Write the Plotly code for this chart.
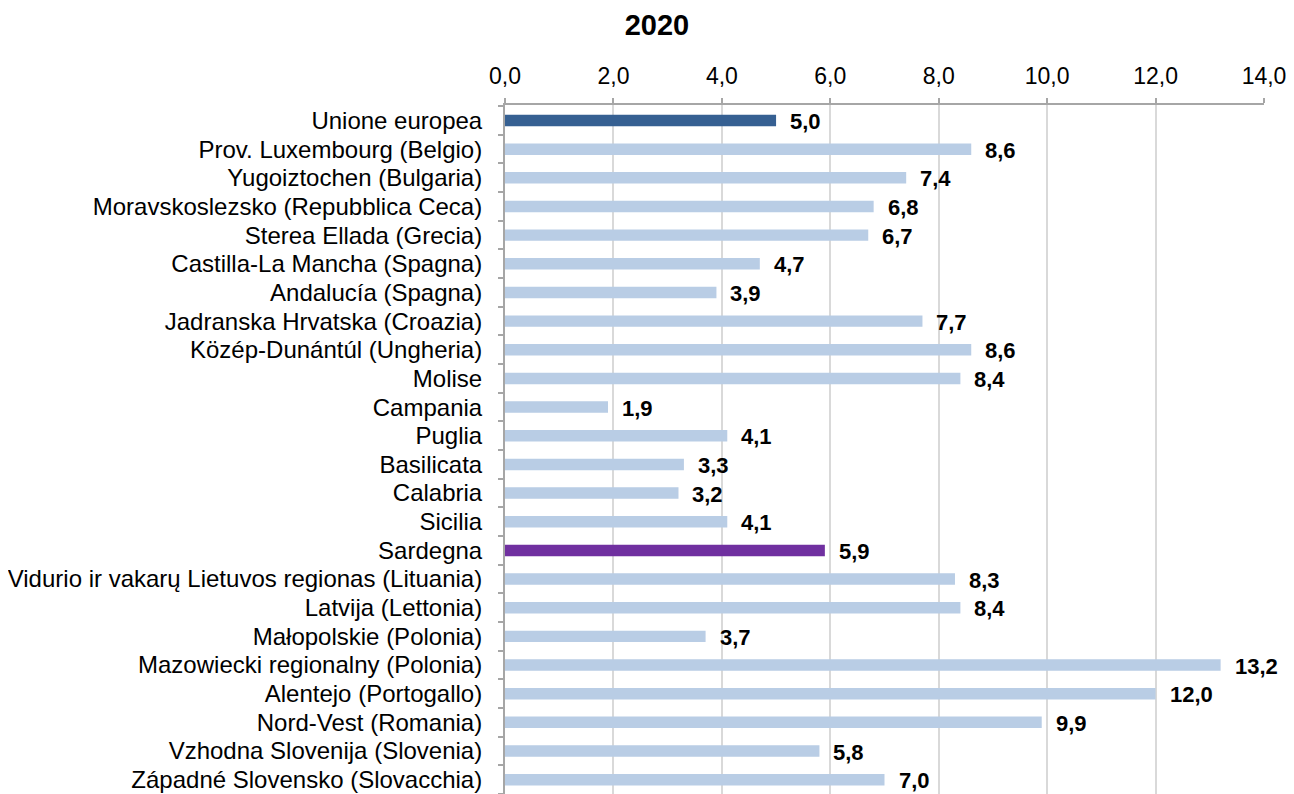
import plotly.graph_objects as go

regions = [
    "Unione europea", "Prov. Luxembourg (Belgio)", "Yugoiztochen (Bulgaria)",
    "Moravskoslezsko (Repubblica Ceca)", "Sterea Ellada (Grecia)",
    "Castilla-La Mancha (Spagna)", "Andalucía (Spagna)",
    "Jadranska Hrvatska (Croazia)", "Közép-Dunántúl (Ungheria)", "Molise",
    "Campania", "Puglia", "Basilicata", "Calabria", "Sicilia", "Sardegna",
    "Vidurio ir vakarų Lietuvos regionas (Lituania)", "Latvija (Lettonia)",
    "Małopolskie (Polonia)", "Mazowiecki regionalny (Polonia)",
    "Alentejo (Portogallo)", "Nord-Vest (Romania)",
    "Vzhodna Slovenija (Slovenia)", "Západné Slovensko (Slovacchia)",
]
values = [5.0, 8.6, 7.4, 6.8, 6.7, 4.7, 3.9, 7.7, 8.6, 8.4, 1.9, 4.1, 3.3,
          3.2, 4.1, 5.9, 8.3, 8.4, 3.7, 13.2, 12.0, 9.9, 5.8, 7.0]

colors = []
for r in regions:
    if r == "Unione europea":
        colors.append("#366092")
    elif r == "Sardegna":
        colors.append("#7030A0")
    else:
        colors.append("#B9CDE5")

fig = go.Figure(go.Bar(
    x=values, y=regions, orientation="h",
    marker=dict(color=colors, line=dict(width=0)),
    width=0.4,
))

# value labels to the right of each bar
for r, v in zip(regions, values):
    fig.add_annotation(
        x=v, y=r, text=f"{v:.1f}".replace(".", ","), showarrow=False,
        xanchor="left", xshift=12, yshift=-1,
        font=dict(family="Liberation Sans, Arial", size=22, color="black",
                  weight="bold"),
    )

# page body has an 8px margin, so the figure is sized smaller
fig.update_layout(
    width=1280, height=786,
    margin=dict(l=497, r=24, t=97, b=0, autoexpand=False),
    paper_bgcolor="white", plot_bgcolor="white",
    separators=",.",
    showlegend=False,
    font=dict(family="Liberation Sans, Arial", size=24, color="black"),
    title=dict(text="<b>2020</b>", x=0.507, xref="container", xanchor="center",
               y=0.978, yanchor="middle",
               font=dict(size=29, color="black")),
)

fig.update_xaxes(
    side="top", range=[0, 14], dtick=2, tickformat=".1f",
    showgrid=True, gridcolor="#D9D9D9", gridwidth=2,
    showline=True, linecolor="#A6A6A6", linewidth=2,
    ticks="outside", ticklen=5, tickcolor="#A6A6A6", tickwidth=2,
    zeroline=False, tickfont=dict(size=23), ticklabelstandoff=5,
    ticklabeloverflow="allow",
)
fig.update_yaxes(
    autorange="reversed", tickson="boundaries",
    tickmode="array", tickvals=regions, ticktext=regions,
    showline=True, linecolor="#A6A6A6", linewidth=2,
    ticks="outside", ticklen=5, tickcolor="#A6A6A6", tickwidth=2,
    showgrid=False, ticklabelstandoff=16, tickfont=dict(size=24),
)

fig.write_html("out.html")
